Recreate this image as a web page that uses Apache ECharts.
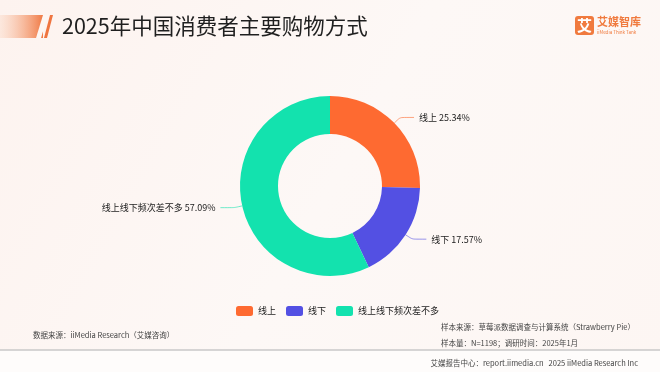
<!DOCTYPE html>
<html>
<head>
<meta charset="utf-8">
<script src="https://cdn.jsdelivr.net/npm/echarts@6/dist/echarts.min.js"></script>
<style>
  html, body { margin: 0; padding: 0; background: #fdf6f3; }
  #main { width: 660px; height: 372px; }
</style>
</head>
<body>
<div id="main"></div>
<script>
  // 购物方式占比（%）
  const categories = ['线上', '线下', '线上线下频次差不多'];
  const values = [25.34, 17.57, 57.09];
  const colors = ['#fe6a31', '#5350e3', '#13e2ae'];

  const font = '"Noto Sans CJK SC", "Noto Sans", sans-serif';
  const chart = echarts.init(document.getElementById('main'));

  chart.setOption({
    backgroundColor: {
      type: 'linear', x: 0, y: 0, x2: 1, y2: 1,
      colorStops: [
        { offset: 0, color: '#fdf3ef' },
        { offset: 0.5, color: '#fdf8f6' },
        { offset: 1, color: '#fdf6f3' }
      ]
    },
    color: colors,
    title: {
      text: '2025年中国消费者主要购物方式',
      left: 57,
      top: 10,
      textStyle: { fontFamily: font, fontSize: 21.5, fontWeight: 'normal', color: '#1f1f1f' }
    },
    legend: {
      data: categories,
      left: 231,
      top: 301,
      itemWidth: 17,
      itemHeight: 10,
      itemGap: 10,
      icon: 'roundRect',
      textStyle: { fontFamily: font, fontSize: 9, color: '#222' }
    },
    series: [
      {
        name: '购物方式',
        type: 'pie',
        center: [330, 186],
        radius: [52, 90],
        startAngle: 90,
        clockwise: true,
        avoidLabelOverlap: false,
        label: {
          formatter: '{b} {c}%',
          fontFamily: font,
          fontSize: 9,
          color: '#222'
        },
        labelLine: {
          length: 8,
          length2: 14,
          smooth: 0.2,
          lineStyle: { width: 1, opacity: 0.6 }
        },
        emphasis: { disabled: true },
        data: categories.map((name, i) => ({ name: name, value: values[i] }))
      }
    ],
    graphic: [
      // 标题左侧装饰条
      {
        type: 'rect',
        shape: { x: 0, y: 15, width: 43, height: 23 },
        style: {
          fill: {
            type: 'linear', x: 0, y: 0, x2: 1, y2: 0,
            colorStops: [
              { offset: 0, color: 'rgba(250,205,180,0.3)' },
              { offset: 1, color: '#f07a45' }
            ]
          }
        }
      },
      {
        type: 'polygon',
        shape: { points: [[36, 38], [43, 15], [48, 15], [41, 38]] },
        style: { fill: '#fdf6f3' }
      },
      {
        type: 'polygon',
        shape: { points: [[44, 38], [50, 15], [53, 15], [47, 38]] },
        style: { fill: '#ef7540' }
      },
      // 右上角 logo
      {
        type: 'rect',
        shape: { x: 575, y: 16, width: 19, height: 19, r: 3 },
        style: { fill: '#f07a3e' }
      },
      {
        type: 'text',
        x: 584.5, y: 25.5,
        style: { text: '艾', fill: '#fff', fontFamily: font, fontSize: 15, fontWeight: 'bold', align: 'center', verticalAlign: 'middle' }
      },
      {
        type: 'text',
        x: 597, y: 16,
        style: { text: '艾媒智库', fill: '#f07a3e', fontFamily: font, fontSize: 11, fontWeight: 'bold' }
      },
      {
        type: 'text',
        x: 597, y: 30,
        style: { text: 'iiMedia Think Tank', fill: '#f07a3e', fontFamily: font, fontSize: 4.5 }
      },
      // 底部信息
      {
        type: 'text',
        x: 33, y: 331,
        style: { text: '数据来源：iiMedia Research（艾媒咨询）', fill: '#444', fontFamily: font, fontSize: 7.5 }
      },
      {
        type: 'text',
        x: 441, y: 323,
        style: { text: '样本来源：草莓派数据调查与计算系统（Strawberry Pie）', fill: '#444', fontFamily: font, fontSize: 7.5 }
      },
      {
        type: 'text',
        x: 441, y: 339,
        style: { text: '样本量：N=1198；调研时间：2025年1月', fill: '#444', fontFamily: font, fontSize: 7.5 }
      },
      {
        type: 'rect',
        shape: { x: 0, y: 350, width: 660, height: 22 },
        style: { fill: '#fefcfb' }
      },
      {
        type: 'line',
        shape: { x1: 0, y1: 350, x2: 660, y2: 350 },
        style: { stroke: '#c8c8c8', lineWidth: 1.5 }
      },
      {
        type: 'text',
        x: 638, y: 359,
        style: { text: '艾媒报告中心：report.iimedia.cn   2025 iiMedia Research Inc', fill: '#444', fontFamily: font, fontSize: 7.5, align: 'right' }
      }
    ]
  });
</script>
</body>
</html>
